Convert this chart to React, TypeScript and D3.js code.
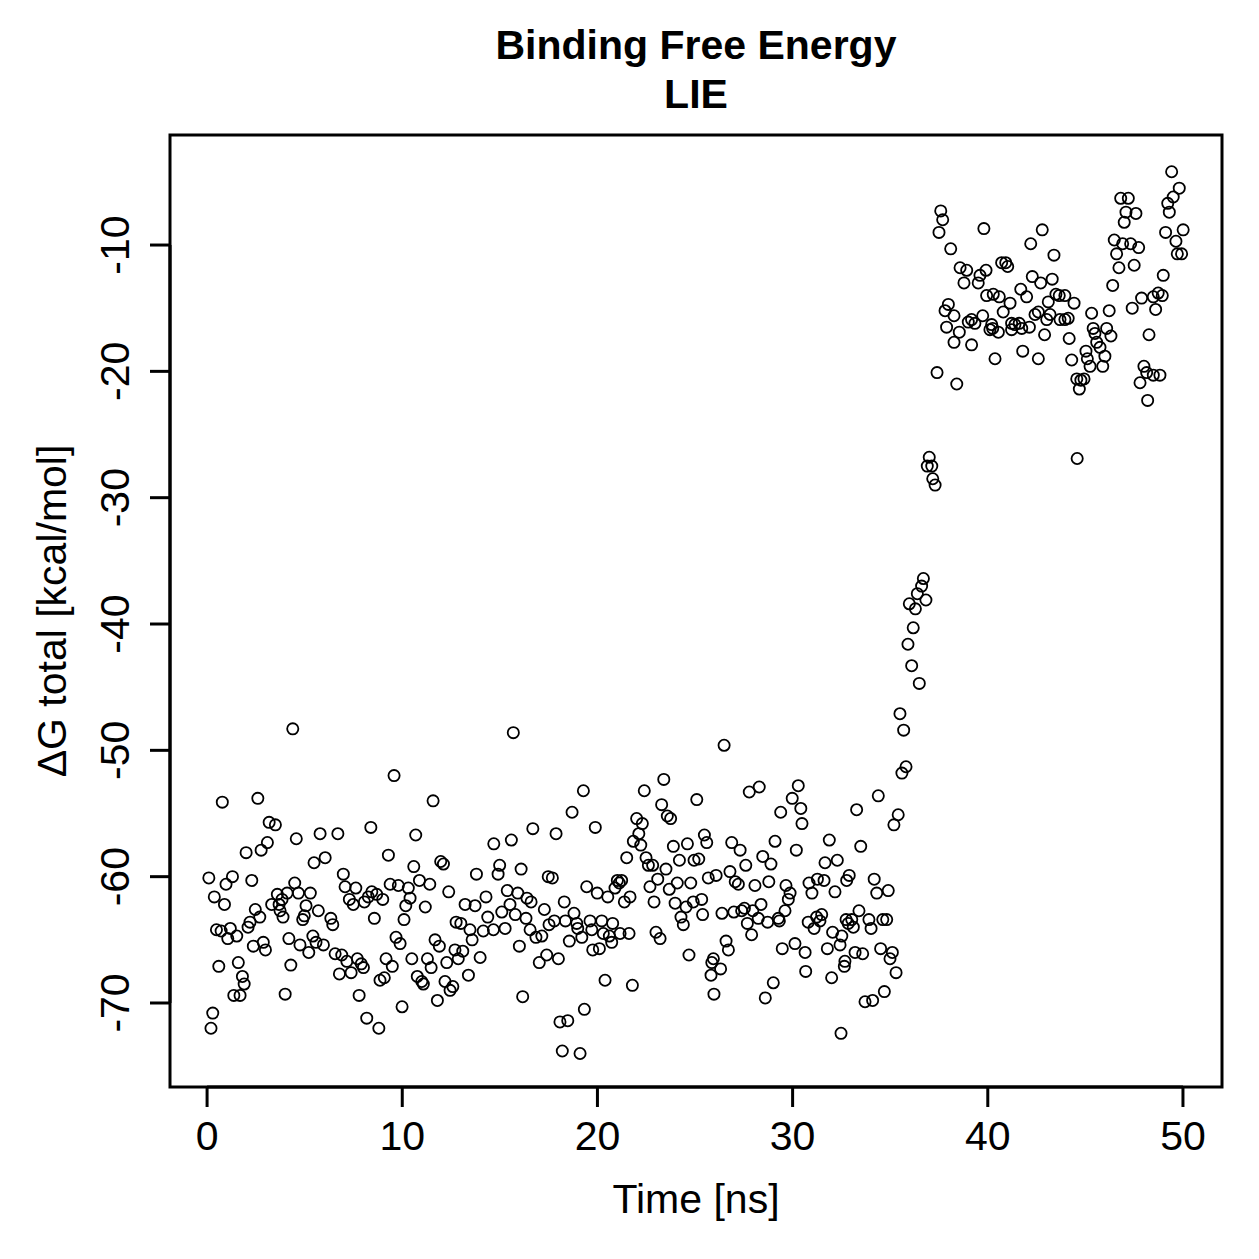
import React from "react";
import * as d3 from "d3";

// Time [ns], ΔG total [kcal/mol]
const boundEarly: [number, number][] = [
  [4.39,-48.3],[0.78,-54.1],[2.60,-53.8],[3.18,-55.7],[3.50,-55.9],[3.09,-57.3],[2.77,-57.9],[2.00,-58.1],[4.57,-57.0],[5.79,-56.6],
  [5.48,-58.9],[6.05,-58.5],[0.09,-60.1],[1.30,-60.0],[0.97,-60.6],[2.29,-60.3],[0.37,-61.6],[0.89,-62.2],[4.49,-60.5],[3.60,-61.4],
  [4.10,-61.3],[4.68,-61.3],[5.29,-61.3],[3.84,-61.8],[3.31,-62.2],[3.69,-62.2],[5.07,-62.3],[5.70,-62.7],[2.47,-62.6],[3.74,-62.7],
  [3.89,-63.2],[4.98,-63.1],[4.90,-63.4],[2.70,-63.2],[2.20,-63.6],[2.10,-64.0],[1.19,-64.1],[1.52,-64.7],[0.48,-64.2],[0.72,-64.3],
  [1.06,-64.9],[2.37,-65.5],[2.88,-65.2],[2.99,-65.8],[4.19,-64.9],[4.76,-65.4],[5.21,-66.0],[5.42,-64.7],[5.58,-65.2],[5.96,-65.4],
  [0.60,-67.1],[1.60,-66.8],[1.81,-67.9],[1.90,-68.5],[1.37,-69.4],[1.69,-69.4],[4.29,-67.0],[4.00,-69.3],[0.29,-70.8],[0.20,-72.0],
  [9.58,-52.0],[11.58,-54.0],[8.39,-56.1],[6.70,-56.6],[10.69,-56.7],[9.29,-58.3],[11.97,-58.8],[12.11,-59.0],[10.59,-59.2],[6.98,-59.8],
  [10.88,-60.3],[11.41,-60.6],[7.07,-60.8],[7.62,-60.9],[9.38,-60.6],[9.80,-60.7],[10.31,-60.9],[8.44,-61.2],[8.69,-61.4],[8.26,-61.6],
  [9.00,-61.8],[10.40,-61.7],[7.29,-61.8],[7.49,-62.2],[8.06,-62.0],[10.18,-62.3],[11.18,-62.4],[12.38,-61.2],[8.57,-63.3],[10.09,-63.4],
  [6.34,-63.3],[6.44,-63.8],[12.76,-63.6],[9.68,-64.8],[9.89,-65.3],[11.68,-65.0],[11.90,-65.5],[12.70,-65.8],[6.56,-66.1],[6.90,-66.2],
  [7.16,-66.7],[7.70,-66.5],[7.90,-66.9],[8.01,-67.2],[6.78,-67.7],[7.38,-67.6],[9.17,-66.5],[9.49,-67.1],[10.49,-66.5],[11.29,-66.5],
  [11.48,-67.2],[12.28,-66.8],[8.86,-68.2],[9.08,-68.0],[10.77,-67.9],[11.00,-68.3],[11.08,-68.5],[12.19,-68.3],[12.59,-68.7],[12.45,-69.0],
  [7.79,-69.4],[8.18,-71.2],[8.80,-72.0],[9.99,-70.3],[11.80,-69.8],
];

const boundMiddle: [number, number][] = [
  [15.69,-48.6],[19.28,-53.2],[18.70,-54.9],[16.69,-56.2],[17.88,-56.6],[14.69,-57.4],[15.59,-57.1],[14.99,-59.1],[14.91,-59.8],[13.80,-59.8],
  [16.09,-59.4],[17.48,-60.0],[17.69,-60.1],[19.45,-60.8],[14.29,-61.6],[15.38,-61.1],[15.92,-61.3],[16.39,-61.7],[16.60,-62.0],[18.30,-62.0],
  [13.22,-62.2],[13.73,-62.3],[15.52,-62.2],[17.28,-62.6],[18.80,-62.9],[14.38,-63.2],[15.10,-62.8],[15.79,-63.0],[16.34,-63.3],[17.79,-63.5],
  [18.36,-63.5],[18.94,-63.7],[18.99,-64.1],[13.00,-63.7],[13.47,-64.2],[14.15,-64.3],[14.67,-64.2],[15.27,-64.1],[16.55,-64.2],[16.85,-64.8],
  [17.15,-64.7],[17.52,-63.8],[13.58,-65.0],[16.00,-65.5],[18.56,-65.1],[19.20,-64.8],[13.10,-65.9],[12.87,-66.5],[13.99,-66.4],[17.02,-66.8],
  [17.40,-66.2],[18.00,-66.5],[13.39,-67.8],[16.17,-69.5],[19.33,-70.5],[18.08,-71.5],[18.48,-71.4],[18.20,-73.8],[19.11,-74.0],
  [23.40,-52.3],[22.40,-53.2],[25.09,-53.9],[23.29,-54.3],[23.58,-55.2],[23.75,-55.4],[19.89,-56.1],[22.01,-55.4],[22.30,-55.8],[22.12,-56.6],
  [21.84,-57.2],[22.22,-57.5],[25.48,-56.7],[25.60,-57.3],[23.89,-57.6],[24.61,-57.4],[24.20,-58.7],[24.95,-58.7],[25.19,-58.6],[21.50,-58.5],
  [22.49,-58.5],[22.61,-59.1],[22.83,-59.1],[23.51,-59.4],[23.09,-60.2],[25.68,-60.1],[26.08,-59.9],[21.02,-60.3],[21.24,-60.3],[21.12,-60.5],
  [20.90,-60.9],[19.99,-61.3],[20.53,-61.6],[21.67,-61.6],[21.38,-62.0],[22.69,-60.8],[23.68,-61.0],[24.09,-60.5],[24.78,-60.5],[22.90,-62.0],
  [23.98,-62.1],[24.54,-62.4],[24.91,-62.0],[25.34,-61.8],[25.39,-63.0],[24.28,-63.2],[24.40,-63.8],[19.62,-63.5],[20.22,-63.5],[20.78,-63.7],
  [19.71,-64.2],[20.30,-64.5],[20.61,-64.7],[20.73,-65.2],[21.16,-64.5],[21.62,-64.5],[19.76,-65.8],[20.10,-65.7],[23.00,-64.4],[23.21,-64.9],
  [24.69,-66.2],[20.39,-68.2],[21.79,-68.6],[25.94,-66.5],[25.86,-66.8],[25.82,-67.8],[25.97,-69.3],
];

const boundLate: [number, number][] = [
  [26.49,-49.6],[27.78,-53.3],[28.29,-52.9],[30.29,-52.8],[29.98,-53.8],[30.42,-54.6],[29.39,-54.9],[30.48,-55.8],[26.88,-57.3],[27.31,-57.9],
  [29.10,-57.2],[31.88,-57.1],[30.19,-57.9],[28.47,-58.4],[28.89,-59.0],[27.60,-59.1],[31.66,-58.9],[32.29,-58.7],[26.79,-59.6],[27.06,-60.4],
  [27.22,-60.6],[28.07,-60.7],[28.78,-60.4],[29.66,-60.7],[29.87,-61.3],[29.78,-61.8],[30.84,-60.5],[31.27,-60.2],[31.61,-60.3],[30.99,-61.3],
  [32.17,-61.2],[32.77,-60.3],[26.38,-62.9],[26.99,-62.8],[27.39,-62.7],[27.53,-62.5],[27.96,-62.7],[28.38,-62.2],[28.24,-63.3],[27.68,-63.7],
  [28.72,-63.6],[27.90,-64.6],[29.27,-63.3],[29.61,-62.7],[29.32,-63.5],[30.80,-63.6],[31.23,-63.2],[31.49,-63.0],[31.40,-63.5],[31.10,-64.1],
  [32.05,-64.4],[32.52,-64.7],[32.43,-65.4],[31.78,-65.7],[32.85,-63.7],[29.47,-65.7],[30.12,-65.3],[30.64,-66.0],[30.67,-67.5],[32.00,-68.0],
  [32.65,-67.1],[26.59,-65.1],[26.71,-65.8],[26.31,-67.3],[29.01,-68.4],[28.60,-69.6],[32.48,-72.4],
];

const transition: [number, number][] = [
  [36.70,-36.4],[36.61,-37.0],[36.39,-37.6],[36.83,-38.1],[35.98,-38.4],[36.29,-38.8],[36.18,-40.3],[35.91,-41.6],[36.10,-43.3],[36.49,-44.7],
  [35.50,-47.1],[35.69,-48.4],[35.81,-51.3],[35.60,-51.8],[34.39,-53.6],[33.28,-54.7],[35.41,-55.1],[35.19,-55.9],[33.49,-57.6],[32.90,-59.9],
  [34.18,-60.2],[34.31,-61.3],[34.90,-61.1],[33.40,-62.7],[33.03,-63.4],[33.91,-63.4],[32.74,-63.4],[33.11,-64.0],[34.02,-64.1],[34.62,-63.4],
  [34.82,-63.4],[33.20,-66.0],[33.59,-66.1],[32.68,-66.7],[34.51,-65.7],[35.11,-66.0],[34.99,-66.5],[35.30,-67.6],[34.70,-69.1],[33.71,-69.9],
  [34.10,-69.8],
  [37.00,-26.8],[36.90,-27.5],[37.13,-27.5],[37.18,-28.5],[37.30,-29.0],
];

const unboundEarly: [number, number][] = [
  [37.59,-7.3],[37.69,-8.0],[37.50,-9.0],[39.80,-8.7],[38.10,-10.3],[38.58,-11.8],[38.92,-12.0],[39.91,-12.0],[39.60,-12.4],[38.78,-13.0],
  [39.51,-13.0],[39.94,-14.0],[40.28,-13.9],[37.98,-14.7],[37.81,-15.2],[38.27,-15.6],[37.89,-16.5],[38.27,-17.7],[38.54,-16.9],[39.00,-16.1],
  [39.34,-16.2],[39.17,-15.9],[39.74,-15.6],[40.20,-16.3],[40.11,-16.7],[39.17,-17.9],[40.37,-19.0],[37.40,-20.1],[38.41,-21.0],
  [42.79,-8.8],[42.20,-9.9],[43.39,-10.8],[40.71,-11.4],[40.92,-11.4],[41.02,-11.7],[42.28,-12.5],[42.71,-13.0],[43.30,-12.7],[41.69,-13.5],
  [41.99,-14.1],[40.59,-14.1],[41.14,-14.6],[43.10,-14.5],[43.49,-13.9],[43.66,-14.0],[43.95,-14.0],[44.42,-14.6],[40.79,-15.3],[42.42,-15.5],
  [42.59,-15.3],[43.19,-15.5],[43.02,-15.9],[43.70,-15.9],[43.95,-15.9],[44.12,-15.8],[45.32,-15.4],[40.25,-16.6],[40.54,-16.9],[41.22,-16.2],
  [41.39,-16.3],[41.61,-16.2],[41.22,-16.7],[41.74,-16.6],[42.13,-16.5],[45.40,-16.6],[45.49,-17.0],[42.91,-17.1],[44.17,-17.4],[45.58,-17.7],
  [41.79,-18.4],[42.59,-19.0],[44.30,-19.1],[45.03,-18.4],[45.10,-19.0],[45.24,-19.6],[44.56,-20.6],[44.93,-20.6],[44.69,-21.4],[44.77,-20.7],
  [44.58,-26.9],
];

const unboundLate: [number, number][] = [
  [49.42,-4.2],[49.81,-5.5],[49.50,-6.2],[49.22,-6.7],[49.30,-7.4],[46.81,-6.3],[47.20,-6.3],[47.08,-7.4],[47.59,-7.5],[46.99,-8.2],
  [49.11,-9.0],[50.01,-8.8],[49.64,-9.7],[49.71,-10.7],[49.93,-10.7],[46.48,-9.6],[46.91,-9.9],[47.32,-9.9],[47.73,-10.2],[46.60,-10.7],
  [46.72,-11.8],[47.50,-11.6],[48.99,-12.4],[46.40,-13.2],[47.88,-14.2],[47.40,-15.0],[48.60,-15.1],[48.73,-13.8],[48.94,-14.0],[48.48,-14.1],
  [46.22,-15.2],[46.09,-16.6],[46.31,-17.2],[45.75,-18.1],[46.00,-18.8],[45.89,-19.6],[48.26,-17.1],[48.00,-19.6],[48.14,-20.1],[48.48,-20.3],
  [48.82,-20.3],[47.80,-20.9],[48.19,-22.3],
];

const xTicks = [0, 10, 20, 30, 40, 50];
const yTicks = [-70, -60, -50, -40, -30, -20, -10];
const titleLines = ["Binding Free Energy", "LIE"];
const xLabel = "Time [ns]";
const yLabel = "ΔG total [kcal/mol]";

const W = 1259;
const H = 1259;
const plot = { left: 170, right: 1222, top: 135, bottom: 1087 };
const FONT = "'Liberation Sans', Arial, Helvetica, sans-serif";

export default function App() {
  const allPoints = [
    ...boundEarly,
    ...boundMiddle,
    ...boundLate,
    ...transition,
    ...unboundEarly,
    ...unboundLate,
  ];
  const x = d3.scaleLinear().domain([-1.9, 52.0]).range([plot.left, plot.right]);
  const y = d3.scaleLinear().domain([-76.65, -1.29]).range([plot.bottom, plot.top]);
  const cx = (plot.left + plot.right) / 2;
  const cy = (plot.top + plot.bottom) / 2;
  const tickLen = 20;

  return (
    <svg
      width={W}
      height={H}
      viewBox={`0 0 ${W} ${H}`}
      style={{ position: "absolute", left: 0, top: 0, display: "block", background: "#fff" }}
      fontFamily={FONT}
    >
      <rect x={0} y={0} width={W} height={H} fill="#fff" />
      {/* title */}
      <text x={cx} y={59} textAnchor="middle" fontWeight="bold" fontSize={41} fill="#000">
        {titleLines[0]}
      </text>
      <text x={cx} y={108} textAnchor="middle" fontWeight="bold" fontSize={41} fill="#000">
        {titleLines[1]}
      </text>

      {/* points */}
      <g fill="none" stroke="#000" strokeWidth={1.8}>
        {allPoints.map((d, i) => (
          <circle key={i} cx={x(d[0])} cy={y(d[1])} r={5.6} />
        ))}
      </g>

      {/* box */}
      <rect
        x={plot.left}
        y={plot.top}
        width={plot.right - plot.left}
        height={plot.bottom - plot.top}
        fill="none"
        stroke="#000"
        strokeWidth={3}
      />

      {/* x axis */}
      <g stroke="#000" strokeWidth={3}>
        <line x1={x(xTicks[0])} x2={x(xTicks[xTicks.length - 1])} y1={plot.bottom} y2={plot.bottom} />
        {xTicks.map((t) => (
          <line key={t} x1={x(t)} x2={x(t)} y1={plot.bottom} y2={plot.bottom + tickLen} />
        ))}
      </g>
      {xTicks.map((t) => (
        <text key={t} x={x(t)} y={1150} textAnchor="middle" fontSize={41} fill="#000">
          {t}
        </text>
      ))}
      <text x={cx} y={1213} textAnchor="middle" fontSize={41} fill="#000">
        {xLabel}
      </text>

      {/* y axis */}
      <g stroke="#000" strokeWidth={3}>
        <line x1={plot.left} x2={plot.left} y1={y(yTicks[0])} y2={y(yTicks[yTicks.length - 1])} />
        {yTicks.map((t) => (
          <line key={t} x1={plot.left - tickLen} x2={plot.left} y1={y(t)} y2={y(t)} />
        ))}
      </g>
      {yTicks.map((t) => (
        <text
          key={t}
          transform={`translate(129, ${y(t)}) rotate(-90)`}
          textAnchor="middle"
          fontSize={41}
          fill="#000"
        >
          {t}
        </text>
      ))}
      <text
        transform={`translate(66, ${cy}) rotate(-90)`}
        textAnchor="middle"
        fontSize={41}
        fill="#000"
      >
        {yLabel}
      </text>
    </svg>
  );
}
